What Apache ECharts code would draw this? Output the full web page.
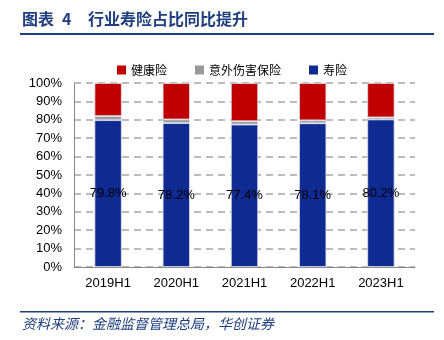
<!DOCTYPE html>
<html><head><meta charset="utf-8">
<script src="https://cdn.jsdelivr.net/npm/echarts@6/dist/echarts.min.js"></script>
<style>html,body{margin:0;padding:0;background:#fff}#c{width:444px;height:340px}</style>
</head><body><div id="c"></div>
<script>
var categories = ['2019H1','2020H1','2021H1','2022H1','2023H1'];
var lifeIns = [79.8, 78.2, 77.4, 78.1, 80.2];
var accidentIns = [2.2, 2.0, 1.8, 1.6, 1.1];
var healthIns = [18.0, 19.8, 20.8, 20.3, 18.7];
var yTicks = [0,10,20,30,40,50,60,70,80,90,100];

var chart = echarts.init(document.getElementById('c'), null, {renderer:'canvas'});
var font = 'Liberation Sans, Arial, sans-serif';
var cjk = '"Noto Sans CJK SC", sans-serif';
var navy = '#1f3f7e';
chart.setOption({
  animation:false,
  graphic:[
    {type:'text', left:22, top:11, style:{text:'图表', font:'bold 16px '+cjk, fill:navy}},
    {type:'text', left:62, top:11, style:{text:'4', font:'bold 16px '+cjk, fill:navy}},
    {type:'text', left:88, top:11, style:{text:'行业寿险占比同比提升', font:'bold 16px '+cjk, fill:navy}},
    {type:'rect', shape:{x:20,y:33,width:414,height:2}, style:{fill:navy}},
    {type:'rect', shape:{x:20,y:311,width:414,height:1.5}, style:{fill:navy}},
    {type:'text', left:22, top:317, style:{text:'资料来源：金融监督管理总局，华创证券', font:'italic 14px '+cjk, fill:navy}}
  ],
  legend:{
    data:['健康险','意外伤害保险','寿险'],
    top:59, left:112,
    itemWidth:9, itemHeight:9, itemGap:28,
    icon:'rect',
    itemStyle:{borderWidth:0},
    textStyle:{fontSize:12, color:'#000', fontFamily:cjk}
  },
  grid:{left:74, right:29, top:83, bottom:73},
  xAxis:{
    type:'category', data:categories,
    axisLine:{lineStyle:{color:'#888', width:1}},
    axisTick:{inside:true, length:4, lineStyle:{color:'#888'}},
    axisLabel:{color:'#000', fontSize:13, fontFamily:font, margin:10}
  },
  yAxis:{
    type:'value', min:0, max:100, interval:10,
    axisLine:{show:true, lineStyle:{color:'#888'}},
    axisTick:{show:false},
    axisLabel:{color:'#000', fontSize:13, fontFamily:font, margin:12, formatter:function(v){return v+'%';}},
    splitLine:{lineStyle:{color:'#a6a6a6', type:[7,5], width:1.5}}
  },
  series:[
    {name:'寿险', type:'bar', stack:'a', data:lifeIns, barWidth:'40%',
     itemStyle:{color:'#0f2a90', borderColor:'#dfe3ee', borderWidth:0.8},
     label:{show:true, position:'inside', formatter:function(p){return p.value.toFixed(1)+'%';}, color:'#000', fontSize:13, fontFamily:font}},
    {name:'意外伤害保险', type:'bar', stack:'a', data:accidentIns,
     itemStyle:{color:'#999999', borderColor:'#dfe3ee', borderWidth:0.8}},
    {name:'健康险', type:'bar', stack:'a', data:healthIns,
     itemStyle:{color:'#c00000', borderColor:'#dfe3ee', borderWidth:0.8}}
  ]
});
</script></body></html>
